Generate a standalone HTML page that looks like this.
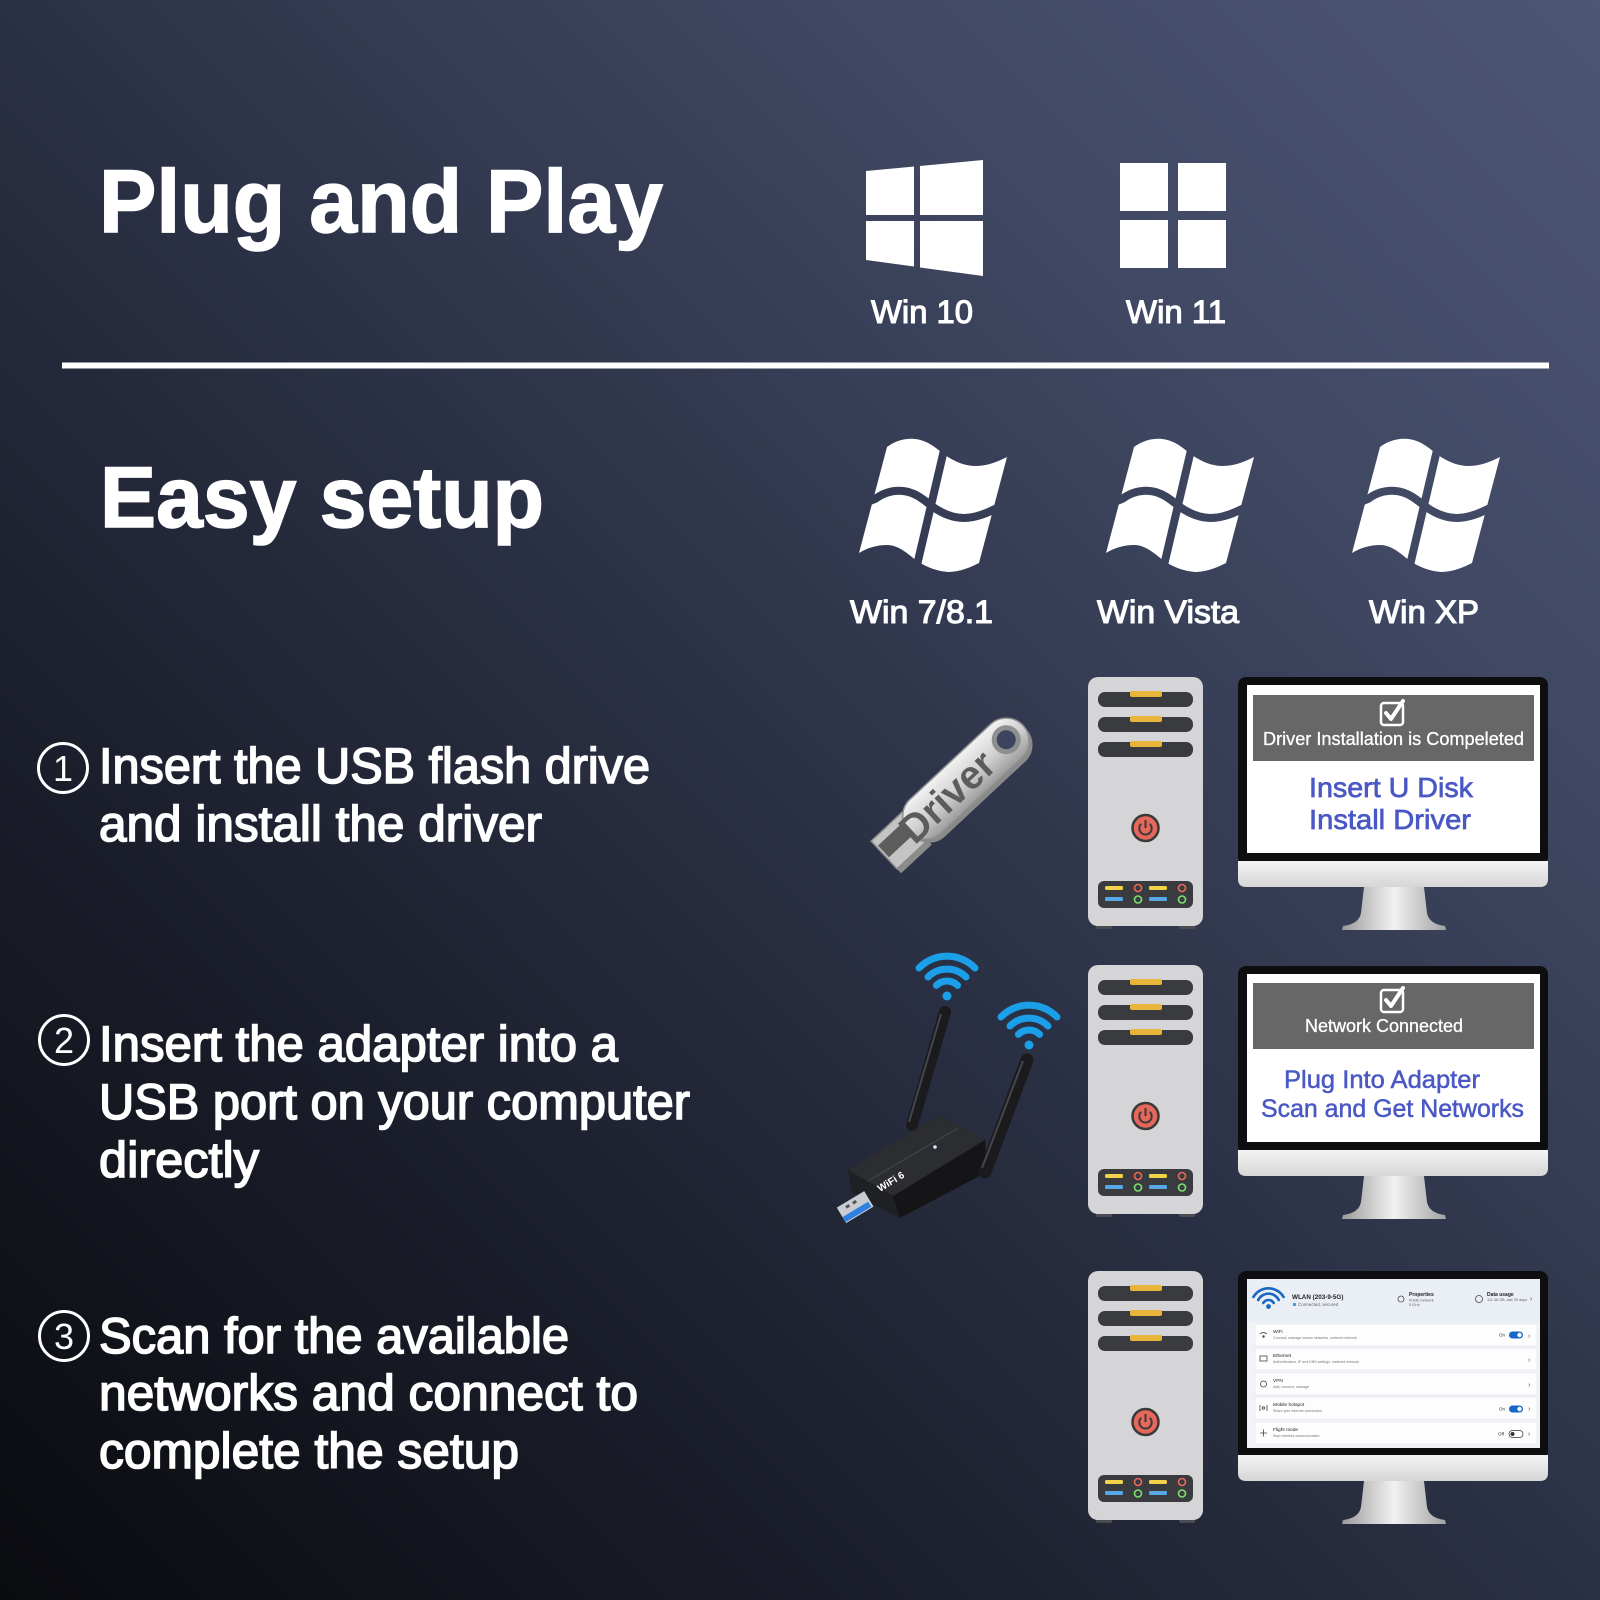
<!DOCTYPE html>
<html><head><meta charset="utf-8"><style>html,body{margin:0;padding:0;background:#222;}svg{display:block;}</style></head>
<body>
<svg width="1600" height="1600" viewBox="0 0 1600 1600" xmlns="http://www.w3.org/2000/svg" font-family="'Liberation Sans', Arial, sans-serif">
<defs>
 <linearGradient id="bg" x1="0" y1="1600" x2="1600" y2="0" gradientUnits="userSpaceOnUse">
  <stop offset="0" stop-color="#0a0b0f"/>
  <stop offset="0.28" stop-color="#1b1e2b"/>
  <stop offset="0.5" stop-color="#2b3145"/>
  <stop offset="0.75" stop-color="#3f4762"/>
  <stop offset="1" stop-color="#4d5675"/>
 </linearGradient>
 <linearGradient id="chin" x1="0" y1="0" x2="0" y2="1">
  <stop offset="0" stop-color="#f4f4f4"/><stop offset="1" stop-color="#d6d6d6"/>
 </linearGradient>
 <linearGradient id="stand" x1="0" y1="0" x2="1" y2="0">
  <stop offset="0" stop-color="#9a9a9a"/><stop offset="0.5" stop-color="#f2f2f2"/><stop offset="1" stop-color="#a2a2a2"/>
 </linearGradient>
 <linearGradient id="metal" x1="0" y1="0" x2="0" y2="1">
  <stop offset="0" stop-color="#f2f2f2"/><stop offset="0.55" stop-color="#cfcfcf"/><stop offset="1" stop-color="#9c9c9c"/>
 </linearGradient>
 <mask id="vm" maskUnits="userSpaceOnUse" x="-10" y="-10" width="180" height="160">
  <path d="M30,9 C38,3 48,0 58,1 C70,2 79,10 88,17 C98,24 108,28 119,28 C131,28 142,23 150,19 L122,125 C114,129 103,134 91,134 C80,133 71,130 60,123 C51,116 42,107 30,107 C20,107 10,110 2,115 Z" fill="#fff"/>
  <path d="M-5,70 L18,61 C26,55 36,52 46,53 C58,54 67,62 76,69 C86,76 96,80 107,80 C119,80 130,75 138,71 L160,62" stroke="#000" stroke-width="8" fill="none"/>
  <path d="M91,-5 L57,140" stroke="#000" stroke-width="8" fill="none"/>
 </mask>
 <g id="vista">
  <rect x="-5" y="-5" width="165" height="145" fill="#fff" mask="url(#vm)"/>
 </g>
 <g id="tower">
  <rect x="8" y="243" width="16" height="9" rx="2" fill="#4a4c52"/>
  <rect x="91" y="243" width="16" height="9" rx="2" fill="#4a4c52"/>
  <rect x="0" y="0" width="115" height="249" rx="10" fill="#d5d5d7"/>
  <rect x="10" y="15" width="95" height="15" rx="7" fill="#3a3b3e"/>
  <rect x="10" y="40" width="95" height="15" rx="7" fill="#3a3b3e"/>
  <rect x="10" y="65" width="95" height="15" rx="7" fill="#3a3b3e"/>
  <rect x="42" y="14" width="32" height="6" rx="2" fill="#e9b43c"/>
  <rect x="42" y="39" width="32" height="6" rx="2" fill="#e9b43c"/>
  <rect x="42" y="64" width="32" height="6" rx="2" fill="#e9b43c"/>
  <circle cx="57.5" cy="151" r="13" fill="#e8675b" stroke="#3a3a3a" stroke-width="2.5"/>
  <path d="M53.3,146.8 A6.2,6.2 0 1 0 61.7,146.8" stroke="#3a3a3a" stroke-width="2" fill="none"/>
  <line x1="57.5" y1="143" x2="57.5" y2="151" stroke="#3a3a3a" stroke-width="2"/>
  <rect x="10" y="204" width="95" height="27" rx="6" fill="#3a3b3e"/>
  <rect x="17" y="209" width="18" height="4" rx="1.5" fill="#f2d34a"/>
  <rect x="61" y="209" width="18" height="4" rx="1.5" fill="#f2d34a"/>
  <rect x="17" y="220" width="18" height="4" rx="1.5" fill="#58a8e8"/>
  <rect x="61" y="220" width="18" height="4" rx="1.5" fill="#58a8e8"/>
  <circle cx="50" cy="211" r="3.5" fill="none" stroke="#e8685c" stroke-width="1.6"/>
  <circle cx="94" cy="211" r="3.5" fill="none" stroke="#e8685c" stroke-width="1.6"/>
  <circle cx="50" cy="222.5" r="3.5" fill="none" stroke="#7ee070" stroke-width="1.6"/>
  <circle cx="94" cy="222.5" r="3.5" fill="none" stroke="#7ee070" stroke-width="1.6"/>
 </g>
 <g id="mon">
  <rect x="0" y="0" width="310" height="188" rx="8" fill="#0e0e10"/>
  <path d="M0,184 H310 V202 Q310,210 302,210 H8 Q0,210 0,202 Z" fill="url(#chin)"/>
  <path d="M126,210 H186 L189,236 Q191,247 207,249 L208,253 H104 L105,249 Q121,247 123,236 Z" fill="url(#stand)"/>
  <rect x="9" y="8" width="293" height="168" fill="#ffffff"/>
 </g>
 <g id="chk">
  <rect x="-11" y="-10" width="22" height="22" rx="3" fill="none" stroke="#fff" stroke-width="2.5"/>
  <path d="M-6,0 L-1,6 L11,-12" fill="none" stroke="#fff" stroke-width="4" stroke-linecap="round" stroke-linejoin="round"/>
 </g>
 <g id="wifi" fill="none" stroke="#1b9fe8" stroke-width="7" stroke-linecap="round">
  <path d="M-28,-28 A39,39 0 0 1 28,-28"/>
  <path d="M-19,-19 A27,27 0 0 1 19,-19"/>
  <path d="M-10.6,-10.6 A15,15 0 0 1 10.6,-10.6"/>
  <circle cx="0" cy="0" r="4.5" fill="#1b9fe8" stroke="none"/>
 </g>
</defs>

<rect x="0" y="0" width="1600" height="1600" fill="url(#bg)"/>

<!-- Titles -->
<text x="99" y="232" font-size="89" font-weight="bold" fill="#fff" stroke="#fff" stroke-width="1.5" textLength="564" lengthAdjust="spacingAndGlyphs">Plug and Play</text>
<text x="100" y="527" font-size="86" font-weight="bold" fill="#fff" stroke="#fff" stroke-width="1.5" textLength="444" lengthAdjust="spacingAndGlyphs">Easy setup</text>

<!-- Win10 -->
<polygon points="866,171 914,166.5 914,215 866,215" fill="#fff"/>
<polygon points="920,166 983,160 983,215 920,215" fill="#fff"/>
<polygon points="866,221 914,221 914,266.5 866,260" fill="#fff"/>
<polygon points="920,221 983,221 983,276 920,267.5" fill="#fff"/>
<!-- Win11 -->
<rect x="1120" y="163" width="48" height="48" fill="#fff"/>
<rect x="1178" y="163" width="48" height="48" fill="#fff"/>
<rect x="1120" y="220" width="48" height="48" fill="#fff"/>
<rect x="1178" y="220" width="48" height="48" fill="#fff"/>

<g font-size="32" fill="#fff" stroke="#fff" stroke-width="1.1">
 <text x="871" y="323" textLength="102" lengthAdjust="spacingAndGlyphs">Win 10</text>
 <text x="1126" y="323" textLength="100" lengthAdjust="spacingAndGlyphs">Win 11</text>
 <text x="850" y="623" textLength="143" lengthAdjust="spacingAndGlyphs">Win 7/8.1</text>
 <text x="1097" y="623" textLength="142" lengthAdjust="spacingAndGlyphs">Win Vista</text>
 <text x="1369" y="623" textLength="110" lengthAdjust="spacingAndGlyphs">Win XP</text>
</g>

<rect x="62" y="362.5" width="1487" height="6" fill="#fff"/>

<use href="#vista" transform="translate(857,438)"/>
<use href="#vista" transform="translate(1104,438)"/>
<use href="#vista" transform="translate(1350,438)"/>

<!-- Steps -->
<g fill="none" stroke="#fff" stroke-width="3">
 <circle cx="63" cy="768" r="24.5"/>
 <circle cx="64" cy="1040" r="24.5"/>
 <circle cx="64" cy="1336" r="24.5"/>
</g>
<g font-size="36" fill="#fff" text-anchor="middle">
 <text x="63" y="781">1</text>
 <text x="64" y="1053">2</text>
 <text x="64" y="1349">3</text>
</g>
<g font-size="50" fill="#fff" stroke="#fff" stroke-width="1.6">
 <text x="99" y="783" textLength="551" lengthAdjust="spacingAndGlyphs">Insert the USB flash drive</text>
 <text x="99" y="841" textLength="443" lengthAdjust="spacingAndGlyphs">and install the driver</text>
 <text x="99" y="1061" textLength="519" lengthAdjust="spacingAndGlyphs">Insert the adapter into a</text>
 <text x="99" y="1119" textLength="591" lengthAdjust="spacingAndGlyphs">USB port on your computer</text>
 <text x="99" y="1177" textLength="160" lengthAdjust="spacingAndGlyphs">directly</text>
 <text x="99" y="1353" textLength="470" lengthAdjust="spacingAndGlyphs">Scan for the available</text>
 <text x="99" y="1410" textLength="539" lengthAdjust="spacingAndGlyphs">networks and connect to</text>
 <text x="99" y="1468" textLength="420" lengthAdjust="spacingAndGlyphs">complete the setup</text>
</g>

<!-- USB drive -->
<g transform="translate(952,793) rotate(-43)">
 <rect x="-92" y="-16" width="42" height="40" fill="#8c8c8c"/>
 <rect x="-92" y="-20" width="42" height="38" fill="#c4c4c4" stroke="#8a8a8a" stroke-width="1.5"/>
 <rect x="-90" y="-12" width="32" height="16" fill="#5d5d5d"/>
 <rect x="-58" y="-19" width="156" height="46" rx="23" fill="#8a8a8a"/>
 <rect x="-58" y="-24" width="156" height="46" rx="23" fill="url(#metal)" stroke="#8f8f8f" stroke-width="1.5"/>
 <circle cx="76" cy="-2" r="12" fill="#3c4460" stroke="#8e8e8e" stroke-width="5"/>
 <text x="-63" y="13" font-size="40" font-weight="bold" fill="#5c5c5c" textLength="114" lengthAdjust="spacingAndGlyphs">Driver</text>
</g>

<!-- Wifi adapter -->
<line x1="945" y1="1012" x2="912" y2="1125" stroke="#1b1b1d" stroke-width="12" stroke-linecap="round"/>
<line x1="941" y1="1014" x2="909" y2="1122" stroke="#45464b" stroke-width="2"/>
<polygon points="848,1170 940,1115 985,1140 893,1196" fill="#2c2d31"/>
<polygon points="893,1196 985,1140 987,1172 900,1218" fill="#151517"/>
<polygon points="848,1170 893,1196 900,1218 852,1193" fill="#1f2023"/>
<line x1="868" y1="1181" x2="958" y2="1128" stroke="#3f4045" stroke-width="1.5"/>
<circle cx="935" cy="1147" r="1.8" fill="#d6ecff"/>
<line x1="1027" y1="1060" x2="985" y2="1172" stroke="#1b1b1d" stroke-width="13" stroke-linecap="round"/>
<line x1="1023" y1="1061" x2="982" y2="1168" stroke="#45464b" stroke-width="2"/>
<g transform="translate(862,1203) rotate(-31)">
 <rect x="-24" y="-9" width="32" height="18" fill="#c9cdd3"/>
 <rect x="-24" y="2" width="30" height="6" fill="#2f80e0"/>
 <rect x="-16" y="-6" width="4" height="3" fill="#555"/>
 <rect x="-8" y="-6" width="4" height="3" fill="#555"/>
</g>
<text transform="translate(880,1192) rotate(-31)" font-size="10" font-weight="bold" fill="#fff">WiFi 6</text>
<use href="#wifi" transform="translate(947,996)"/>
<use href="#wifi" transform="translate(1029,1045)"/>

<!-- Towers -->
<use href="#tower" transform="translate(1088,677)"/>
<use href="#tower" transform="translate(1088,965)"/>
<use href="#tower" transform="translate(1088,1271)"/>

<!-- Monitor 1 -->
<g transform="translate(1238,677)">
 <use href="#mon"/>
 <rect x="15" y="18" width="281" height="66" fill="#676767"/>
 <use href="#chk" transform="translate(154,36)"/>
 <text x="25" y="68" font-size="18" fill="#fff" stroke="#fff" stroke-width="0.3" textLength="261" lengthAdjust="spacingAndGlyphs">Driver Installation is Compeleted</text>
 <g font-size="28" fill="#4a58c5" stroke="#4a58c5" stroke-width="0.7">
  <text x="71" y="120" textLength="164" lengthAdjust="spacingAndGlyphs">Insert U Disk</text>
  <text x="71" y="152" textLength="162" lengthAdjust="spacingAndGlyphs">Install Driver</text>
 </g>
</g>

<!-- Monitor 2 -->
<g transform="translate(1238,966)">
 <use href="#mon"/>
 <rect x="15" y="17" width="281" height="66" fill="#676767"/>
 <use href="#chk" transform="translate(154,34)"/>
 <text x="67" y="66" font-size="18" fill="#fff" stroke="#fff" stroke-width="0.3" textLength="158" lengthAdjust="spacingAndGlyphs">Network Connected</text>
 <g font-size="25" fill="#4a58c5" stroke="#4a58c5" stroke-width="0.5">
  <text x="46" y="122" textLength="196" lengthAdjust="spacingAndGlyphs">Plug Into Adapter</text>
  <text x="23" y="151" textLength="263" lengthAdjust="spacingAndGlyphs">Scan and Get Networks</text>
 </g>
</g>

<!-- Monitor 3 -->
<g transform="translate(1238,1271)">
 <use href="#mon"/>
 <rect x="9" y="8" width="293" height="169" fill="#f1f3f7"/>
 <rect x="9" y="8" width="293" height="43" fill="#eaeef5"/>
 <g fill="none" stroke="#1967c2" stroke-width="2.6" stroke-linecap="round">
  <path d="M15.4,26 A17.5,17.5 0 0 1 45.6,26"/>
  <path d="M20.2,29 A11.5,11.5 0 0 1 40.8,29"/>
  <path d="M25.3,32 A6,6 0 0 1 35.7,32"/>
 </g>
 <circle cx="30.5" cy="35.5" r="2.4" fill="#1967c2"/>
 <text x="54" y="28" font-size="6.3" font-weight="bold" fill="#222">WLAN (203-9-5G)</text>
 <circle cx="56.5" cy="33.5" r="1.6" fill="#3a9ad9"/>
 <text x="60" y="35" font-size="4.5" fill="#666">Connected, secured</text>
 <circle cx="163" cy="28" r="3" fill="none" stroke="#444" stroke-width="0.8"/>
 <text x="171" y="25" font-size="5" font-weight="bold" fill="#222">Properties</text>
 <text x="171" y="30.5" font-size="3.8" fill="#666">Public network</text>
 <text x="171" y="35" font-size="3.8" fill="#666">5 GHz</text>
 <circle cx="241" cy="28" r="3.5" fill="none" stroke="#444" stroke-width="0.8"/>
 <text x="249" y="25" font-size="5" font-weight="bold" fill="#222">Data usage</text>
 <text x="249" y="30" font-size="3.8" fill="#666">111.46 GB, last 30 days</text>
 <text x="292" y="30" font-size="7" fill="#555">&#8250;</text>

 <g>
  <rect x="17" y="53" width="282" height="22" fill="#fdfdfe" stroke="#e3e5ea" stroke-width="0.6"/>
  <rect x="17" y="77" width="282" height="22" fill="#fdfdfe" stroke="#e3e5ea" stroke-width="0.6"/>
  <rect x="17" y="102" width="282" height="22" fill="#fdfdfe" stroke="#e3e5ea" stroke-width="0.6"/>
  <rect x="17" y="126" width="282" height="22" fill="#fdfdfe" stroke="#e3e5ea" stroke-width="0.6"/>
  <rect x="17" y="151" width="282" height="22" fill="#fdfdfe" stroke="#e3e5ea" stroke-width="0.6"/>
 </g>
 <g fill="none" stroke="#444" stroke-width="0.8">
  <path d="M22,63 A5,5 0 0 1 29,63"/><circle cx="25.5" cy="65.5" r="0.8" fill="#444"/>
  <rect x="22" y="85" width="7" height="5"/>
  <circle cx="25.5" cy="113" r="3"/>
  <circle cx="25.5" cy="137" r="1.2"/><path d="M22,134 V140 M29,134 V140"/>
  <path d="M22,162 H29 M25.5,158.5 V165.5"/>
 </g>
 <g fill="#222" font-size="4.8">
  <text x="35" y="62">WiFi</text>
  <text x="35" y="86">Ethernet</text>
  <text x="35" y="111">VPN</text>
  <text x="35" y="135">Mobile hotspot</text>
  <text x="35" y="160">Flight mode</text>
 </g>
 <g fill="#777" font-size="3.6">
  <text x="35" y="68">Connect, manage known networks, metered network</text>
  <text x="35" y="92">Authentication, IP and DNS settings, metered network</text>
  <text x="35" y="117">Add, connect, manage</text>
  <text x="35" y="141">Share your internet connection</text>
  <text x="35" y="166">Stop wireless communication</text>
 </g>
 <g fill="#555" font-size="7">
  <text x="290" y="67">&#8250;</text>
  <text x="290" y="91">&#8250;</text>
  <text x="290" y="116">&#8250;</text>
  <text x="290" y="140">&#8250;</text>
  <text x="290" y="165">&#8250;</text>
 </g>
 <g font-size="4.5" fill="#333">
  <text x="261" y="65.5">On</text>
  <text x="261" y="139.5">On</text>
  <text x="260" y="164.5">Off</text>
 </g>
 <rect x="271" y="60.5" width="14" height="7" rx="3.5" fill="#1666c5"/>
 <circle cx="281.5" cy="64" r="2.2" fill="#fff"/>
 <rect x="271" y="134.5" width="14" height="7" rx="3.5" fill="#1666c5"/>
 <circle cx="281.5" cy="138" r="2.2" fill="#fff"/>
 <rect x="271" y="159.5" width="14" height="7" rx="3.5" fill="#fff" stroke="#333" stroke-width="0.7"/>
 <circle cx="274.5" cy="163" r="2" fill="#333"/>
</g>
</svg>
</body></html>
